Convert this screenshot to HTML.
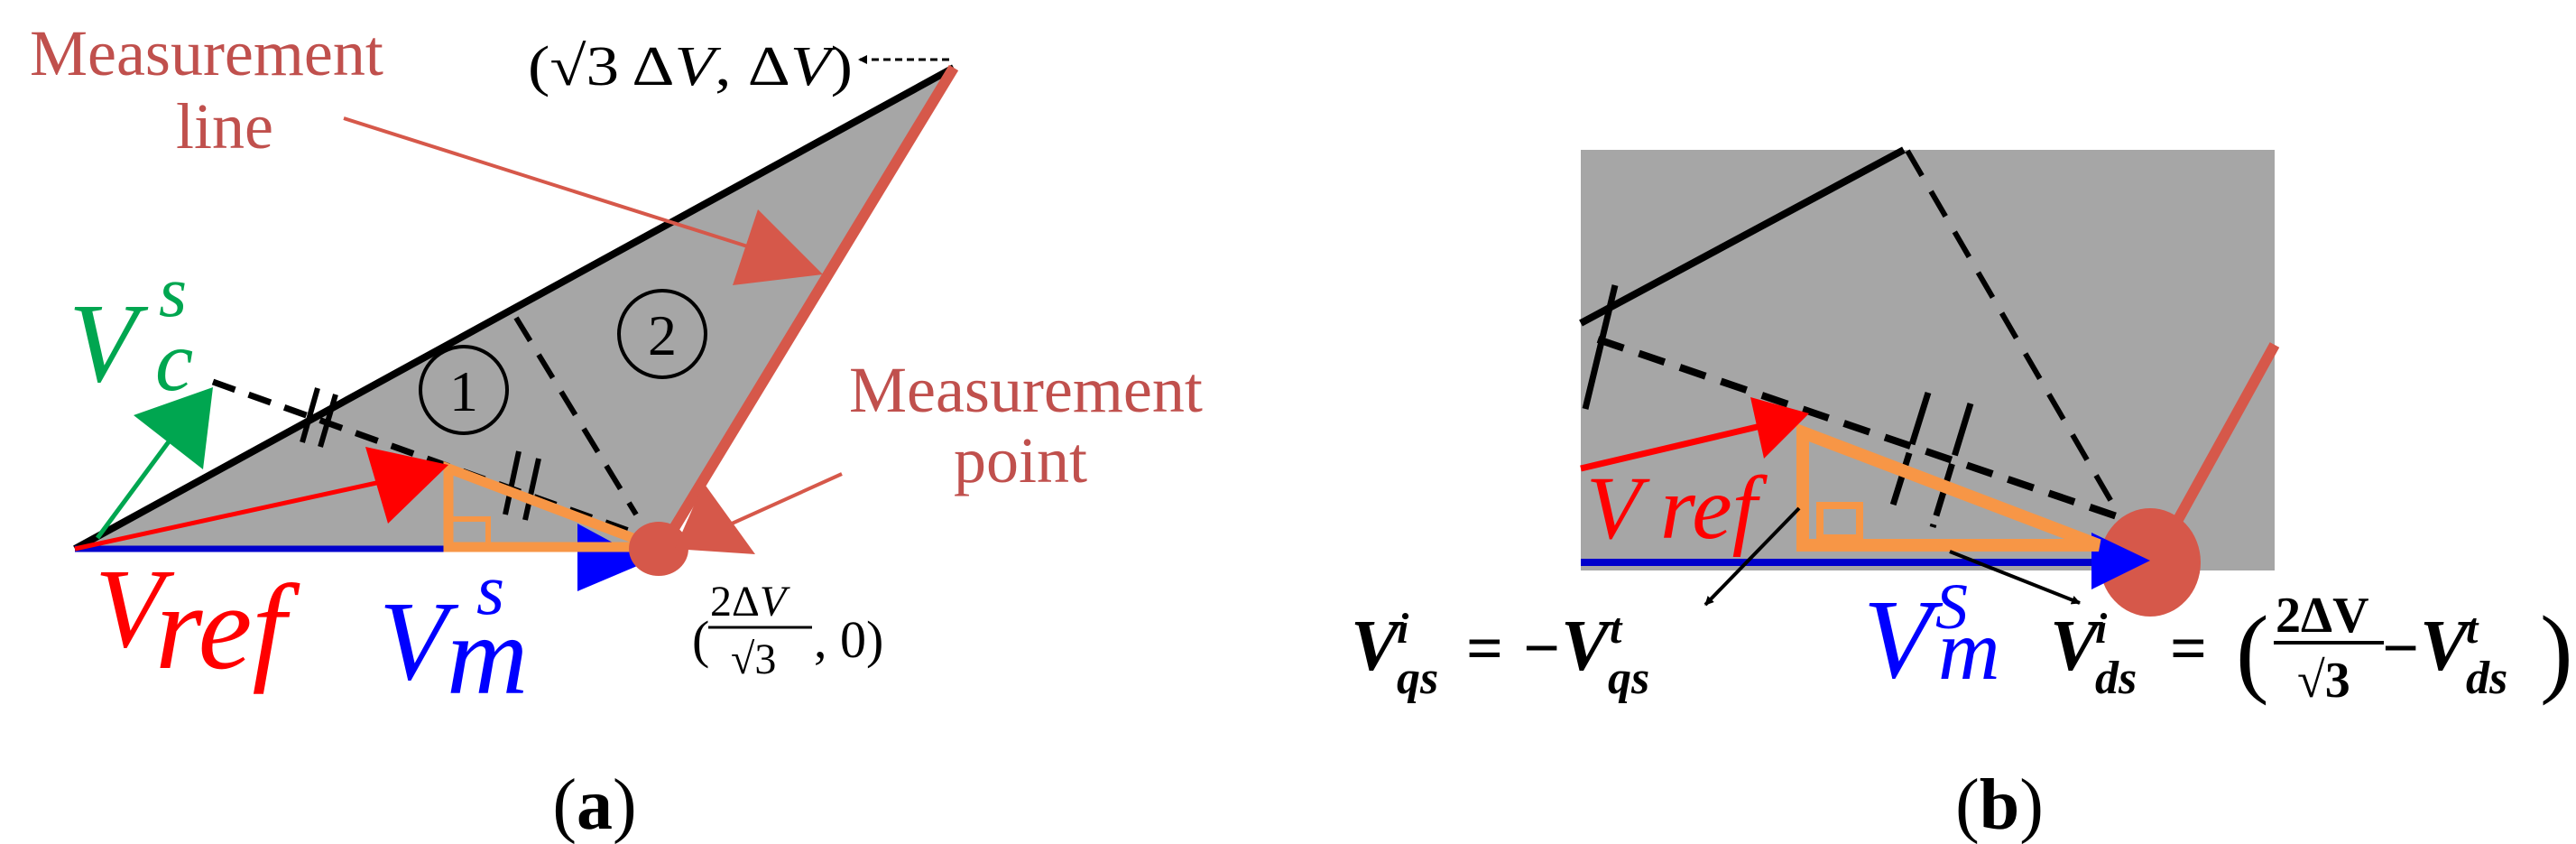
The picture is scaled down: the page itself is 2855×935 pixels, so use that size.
<!DOCTYPE html>
<html><head><meta charset="utf-8"><style>
html,body{margin:0;padding:0;background:#fff;}
svg{display:block;}
text{font-family:"Liberation Serif",serif;}
</style></head><body>
<svg width="2855" height="935" viewBox="0 0 2855 935" xmlns="http://www.w3.org/2000/svg">
<defs>
<marker id="ab" markerWidth="10" markerHeight="10" refX="9" refY="5" orient="auto" markerUnits="userSpaceOnUse" viewBox="0 0 10 10"><path d="M0,0 L10,5 L0,10 z" fill="#000"/></marker>
</defs>
<!-- ===== Panel (a) ===== -->
<polygon points="83,608 1057,75 730,608" fill="#a6a6a6"/>
<line x1="83" y1="608" x2="1057" y2="75" stroke="#000" stroke-width="8"/>
<line x1="735" y1="605" x2="1057" y2="75" stroke="#d6584a" stroke-width="12"/>
<line x1="236" y1="423" x2="730" y2="600" stroke="#000" stroke-width="7" stroke-dasharray="26,16"/>
<line x1="572" y1="352" x2="705" y2="570" stroke="#000" stroke-width="6" stroke-dasharray="30,18"/>
<line x1="335" y1="490" x2="352" y2="430" stroke="#000" stroke-width="6"/>
<line x1="355" y1="495" x2="372" y2="437" stroke="#000" stroke-width="6"/>
<line x1="560" y1="570" x2="575" y2="500" stroke="#000" stroke-width="6"/>
<line x1="582" y1="576" x2="597" y2="508" stroke="#000" stroke-width="6"/>
<circle cx="514" cy="432" r="48" fill="none" stroke="#000" stroke-width="4"/>
<text x="514" y="455" font-size="64" text-anchor="middle">1</text>
<circle cx="734" cy="370" r="48" fill="none" stroke="#000" stroke-width="4"/>
<text x="734" y="393" font-size="64" text-anchor="middle">2</text>
<line x1="83" y1="608" x2="660" y2="608" stroke="#0000cc" stroke-width="7"/>
<polygon points="640,580 718,622 640,655" fill="#0000ff"/>
<polygon points="497,519 497,606 728,606" fill="none" stroke="#f79646" stroke-width="11"/>
<rect x="499" y="575" width="42" height="29" fill="none" stroke="#f79646" stroke-width="6"/>
<line x1="83" y1="608" x2="440" y2="530" stroke="#ff0000" stroke-width="5"/>
<polygon points="405,495 497,515 430,580" fill="#ff0000"/>
<line x1="108" y1="596" x2="205" y2="465" stroke="#00a650" stroke-width="5"/>
<polygon points="148,460 236,429 225,520" fill="#00a650"/>
<ellipse cx="730" cy="608" rx="33" ry="30" fill="#d6584a"/>
<line x1="381" y1="131" x2="860" y2="283" stroke="#d6584a" stroke-width="4"/>
<polygon points="840,232 912,304 812,316" fill="#d6584a"/>
<line x1="933" y1="525" x2="800" y2="585" stroke="#d6584a" stroke-width="4"/>
<polygon points="780,535 837,614 748,608" fill="#d6584a"/>
<text x="33" y="83" font-size="72" fill="#c0504d">Measurement</text>
<text x="195" y="164" font-size="72" fill="#c0504d">line</text>
<text x="941" y="456" font-size="72" fill="#c0504d">Measurement</text>
<text x="1057" y="534" font-size="72" fill="#c0504d">point</text>
<text x="585" y="94" font-size="62" textLength="360" lengthAdjust="spacingAndGlyphs">(√3 Δ<tspan font-style="italic">V</tspan>, Δ<tspan font-style="italic">V</tspan>)</text>
<line x1="1052" y1="66" x2="952" y2="66" stroke="#000" stroke-width="3" stroke-dasharray="8,5" marker-end="url(#ab)"/>
<text x="767" y="728" font-size="58">(</text>
<text x="787" y="682" font-size="48">2Δ<tspan font-style="italic">V</tspan></text>
<line x1="785" y1="695" x2="900" y2="695" stroke="#000" stroke-width="3"/>
<text x="810" y="746" font-size="48">√3</text>
<text x="902" y="728" font-size="58">, 0)</text>
<text x="105" y="716" font-size="125" font-style="italic" fill="#ff0000">V</text>
<text x="172" y="740" font-size="135" font-style="italic" fill="#ff0000">ref</text>
<text x="420" y="752" font-size="125" font-style="italic" fill="#0000ff">V</text>
<text x="528" y="680" font-size="80" font-style="italic" fill="#0000ff">s</text>
<text x="495" y="768" font-size="125" font-style="italic" fill="#0000ff">m</text>
<text x="76" y="422" font-size="125" font-style="italic" fill="#00a650">V</text>
<text x="176" y="350" font-size="80" font-style="italic" fill="#00a650">s</text>
<text x="172" y="432" font-size="95" font-style="italic" fill="#00a650">c</text>
<text x="659" y="918" font-size="80" text-anchor="middle">(<tspan font-weight="bold">a</tspan>)</text>

<!-- ===== Panel (b) ===== -->
<rect x="1752" y="166" width="769" height="466" fill="#a6a6a6"/>
<line x1="1752" y1="358" x2="2110" y2="166" stroke="#000" stroke-width="8"/>
<line x1="1790" y1="316" x2="1757" y2="453" stroke="#000" stroke-width="7"/>
<line x1="2411" y1="581" x2="2521" y2="382" stroke="#d6584a" stroke-width="12"/>
<line x1="1771" y1="376" x2="2346" y2="572" stroke="#000" stroke-width="8" stroke-dasharray="30,18"/>
<line x1="2114" y1="167" x2="2346" y2="566" stroke="#000" stroke-width="6" stroke-dasharray="32,20"/>
<line x1="2137" y1="435" x2="2096" y2="566" stroke="#000" stroke-width="7" stroke-dasharray="60,10"/>
<line x1="2184" y1="447" x2="2142" y2="584" stroke="#000" stroke-width="7" stroke-dasharray="60,10"/>
<ellipse cx="2383" cy="623" rx="56" ry="60" fill="#d6584a"/>
<line x1="1752" y1="623" x2="2330" y2="623" stroke="#0000cc" stroke-width="8"/>
<polygon points="2318,590 2383,621 2318,653" fill="#0000ff"/>
<polygon points="1998,479 1998,604 2326,604" fill="none" stroke="#f79646" stroke-width="14"/>
<rect x="2017" y="560" width="44" height="36" fill="none" stroke="#f79646" stroke-width="8"/>
<line x1="1752" y1="519" x2="1960" y2="470" stroke="#ff0000" stroke-width="7"/>
<polygon points="1940,440 2005,458 1955,508" fill="#ff0000"/>
<text x="1758" y="596" font-size="100" font-style="italic" fill="#ff0000">V</text>
<text x="1840" y="596" font-size="100" font-style="italic" fill="#ff0000">ref</text>
<line x1="1994" y1="563" x2="1890" y2="670" stroke="#000" stroke-width="4" marker-end="url(#ab)"/>
<line x1="2161" y1="611" x2="2305" y2="668" stroke="#000" stroke-width="4" marker-end="url(#ab)"/>
<text x="2065" y="750" font-size="125" font-style="italic" fill="#0000ff">V</text>
<text x="2145" y="696" font-size="72" font-style="italic" fill="#0000ff">S</text>
<text x="2148" y="752" font-size="95" font-style="italic" fill="#0000ff">m</text>
<g font-weight="bold" font-style="italic">
<text x="1497" y="742" font-size="80">V</text>
<text x="1548" y="712" font-size="48">i</text>
<text x="1548" y="768" font-size="52">qs</text>
<text x="1625" y="742" font-size="72" font-style="normal">=</text>
<text x="1688" y="742" font-size="72" font-style="normal">−</text>
<text x="1730" y="742" font-size="80">V</text>
<text x="1784" y="712" font-size="48">t</text>
<text x="1782" y="768" font-size="52">qs</text>
<text x="2272" y="742" font-size="80">V</text>
<text x="2322" y="712" font-size="48">i</text>
<text x="2322" y="768" font-size="52">ds</text>
<text x="2405" y="742" font-size="72" font-style="normal">=</text>
<text x="2478" y="758" font-size="110" font-style="normal" font-weight="normal">(</text>
<text x="2522" y="700" font-size="56" font-style="normal">2ΔV</text>
<line x1="2520" y1="712" x2="2642" y2="712" stroke="#000" stroke-width="4"/>
<text x="2546" y="772" font-size="56" font-style="normal">√3</text>
<text x="2640" y="742" font-size="72" font-style="normal">−</text>
<text x="2682" y="742" font-size="80">V</text>
<text x="2733" y="712" font-size="48">t</text>
<text x="2733" y="768" font-size="52">ds</text>
<text x="2815" y="758" font-size="110" font-style="normal" font-weight="normal">)</text>
</g>
<text x="2216" y="918" font-size="80" text-anchor="middle">(<tspan font-weight="bold">b</tspan>)</text>
</svg>
</body></html>
